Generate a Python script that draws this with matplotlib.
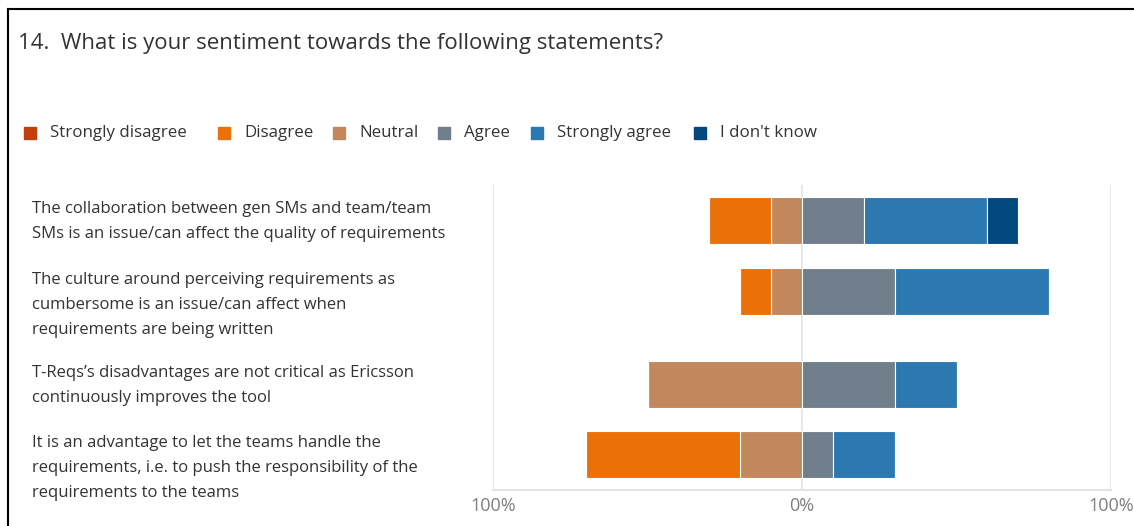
import matplotlib.pyplot as plt
from matplotlib.lines import Line2D
from matplotlib.patches import Rectangle

plt.rcParams['font.family'] = ['Open Sans', 'DejaVu Sans']

title = "14.  What is your sentiment towards the following statements?"

statements = [
    "The collaboration between gen SMs and team/team\nSMs is an issue/can affect the quality of requirements",
    "The culture around perceiving requirements as\ncumbersome is an issue/can affect when\nrequirements are being written",
    "T-Reqs\u2019s disadvantages are not critical as Ericsson\ncontinuously improves the tool",
    "It is an advantage to let the teams handle the\nrequirements, i.e. to push the responsibility of the\nrequirements to the teams",
]

categories = ["Strongly disagree", "Disagree", "Neutral", "Agree", "Strongly agree", "I don't know"]
colors = ["#c23f0b", "#eb7007", "#c3875d", "#717e8c", "#2b79b0", "#02487f"]

# percentages per statement
strongly_disagree = [0, 0, 0, 0]
disagree = [20, 10, 0, 50]
neutral = [10, 10, 50, 20]
agree = [20, 30, 30, 10]
strongly_agree = [40, 50, 20, 20]
dont_know = [10, 0, 0, 0]

# row centres (axis units run top to bottom)
rows = [220.5, 291.5, 384.5, 454.5]
bar_h = 47

fig = plt.figure(figsize=(11.34, 5.26), dpi=100)
ax = fig.add_axes([493 / 1134, 36 / 526, 618 / 1134, 305 / 526])

# left side: neutral next to centre, then disagree, then strongly disagree
left_parts = [(neutral, colors[2]), (disagree, colors[1]), (strongly_disagree, colors[0])]
right_parts = [(agree, colors[3]), (strongly_agree, colors[4]), (dont_know, colors[5])]

offset = [0] * len(rows)
for vals, c in left_parts:
    ax.barh(rows, [-v for v in vals], left=[-o for o in offset], height=bar_h,
            color=c, edgecolor='white', linewidth=0.8, zorder=3)
    offset = [o + v for o, v in zip(offset, vals)]

offset = [0] * len(rows)
for vals, c in right_parts:
    ax.barh(rows, vals, left=offset, height=bar_h,
            color=c, edgecolor='white', linewidth=0.8, zorder=3)
    offset = [o + v for o, v in zip(offset, vals)]

ax.set_xlim(-100, 100)
ax.set_ylim(490, 185)
ax.set_xticks([-100, 0, 100])
ax.set_xticklabels(["100%", "0%", "100%"], color="#7f7f7f", fontsize=13)
ax.tick_params(axis='x', length=0, pad=5)
ax.set_yticks([])
for s in ['top', 'right', 'left']:
    ax.spines[s].set_visible(False)
ax.spines['bottom'].set_color('#e3e3e3')
ax.spines['bottom'].set_linewidth(1.5)
ax.grid(axis='x', color='#e3e3e3', linewidth=1.2, zorder=0)

# statement labels, first line level with top of bar
for y, txt in zip(rows, statements):
    fig.text(32 / 1134, 1 - (y - bar_h / 2 + 4) / 526, txt, ha='left', va='top',
             fontsize=12, color='#333333', linespacing=1.75)

fig.text(18 / 1134, 1 - 43 / 526, title, ha='left', va='center', fontsize=16, color='#333333')

# legend row
legend_x = [24, 218, 333, 438, 531, 694]
for x, name, c in zip(legend_x, categories, colors):
    fig.patches.append(Rectangle((x / 1134, 1 - 139 / 526), 12 / 1134, 12 / 526,
                                 transform=fig.transFigure, color=c))
    fig.text((x + 26) / 1134, 1 - 133 / 526, name, ha='left', va='center',
             fontsize=12.2, color='#333333')

# frame lines
fig.add_artist(Line2D([8 / 1134, 1], [1 - 9 / 526, 1 - 9 / 526], color='black', lw=1.5))
fig.add_artist(Line2D([8 / 1134, 8 / 1134], [0, 1 - 9 / 526], color='black', lw=1.5))

fig.savefig('out.png', dpi=100)
